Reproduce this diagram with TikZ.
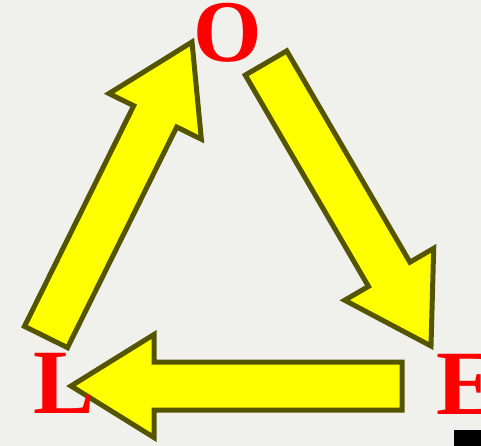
\documentclass[tikz,border=0pt]{standalone}
\usepackage{fontspec}
\setmainfont{Liberation Serif}[BoldFont={Liberation Serif Bold}]
\usetikzlibrary{calc}
\definecolor{bg}{HTML}{F0F0EC}
\definecolor{olive}{HTML}{555500}
\definecolor{lettred}{HTML}{FF0000}
\definecolor{arrowyellow}{HTML}{FFFF00}
\tikzset{
  blockarrow/.style={fill=arrowyellow, draw=olive, line width=5pt, line join=miter},
  letter/.style={text=lettred, inner sep=0pt, font=\bfseries\fontsize{92}{92}\selectfont}
}
\newcommand{\blockarr}[3]{%
  \coordinate (#3a) at #1;
  \coordinate (#3b) at #2;
  \coordinate (#3h) at ($(#3b)!83pt!(#3a)$);
  \draw[blockarrow] ($(#3a)!24pt!90:(#3b)$) -- ($(#3h)!24pt!90:(#3b)$)
     -- ($(#3h)!51.5pt!90:(#3b)$) -- (#3b)
     -- ($(#3h)!51.5pt!-90:(#3b)$) -- ($(#3h)!24pt!-90:(#3b)$)
     -- ($(#3a)!24pt!-90:(#3b)$) -- cycle;
}
\begin{document}
\begin{tikzpicture}[x=1pt,y=-1pt]
  \fill[bg] (0,0) rectangle (481,446);
  \useasboundingbox (0,0) rectangle (481,446);
  % arrows
  \blockarr{(46,337)}{(192,42)}{la}
  \blockarr{(266,63)}{(431,346)}{ra}
  \blockarr{(402,386)}{(71,386)}{ba}
  % letters
  \node[letter, anchor=base, font=\bfseries\fontsize{88}{88}\selectfont] (O) at (227.5,62) {O};
  \node[letter, anchor=base west] (L) at (33,413) {L};
  \node[letter, anchor=base west] (E) at (436,414) {E};
  % black bar
  \fill[black] (454,430) rectangle (481,446);
\end{tikzpicture}
\end{document}
